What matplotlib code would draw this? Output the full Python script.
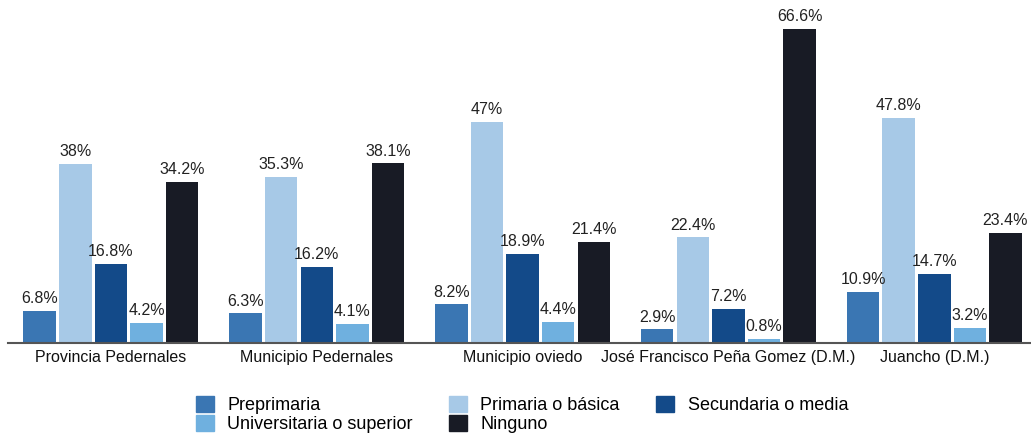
import numpy as np
import matplotlib
matplotlib.use("Agg")
import matplotlib.pyplot as plt
from matplotlib.patches import Patch

plt.rcParams['font.family'] = ['Liberation Sans', 'DejaVu Sans']

categories = ["Provincia Pedernales", "Municipio Pedernales", "Municipio oviedo",
              "José Francisco Peña Gomez (D.M.)", "Juancho (D.M.)"]
series_names = ["Preprimaria", "Primaria o básica", "Secundaria o media",
                "Universitaria o superior", "Ninguno"]
preprimaria = [6.8, 6.3, 8.2, 2.9, 10.9]
primaria = [38, 35.3, 47, 22.4, 47.8]
secundaria = [16.8, 16.2, 18.9, 7.2, 14.7]
universitaria = [4.2, 4.1, 4.4, 0.8, 3.2]
ninguno = [34.2, 38.1, 21.4, 66.6, 23.4]
series = [preprimaria, primaria, secundaria, universitaria, ninguno]
colors = ["#3a76b3", "#a7c9e7", "#134a89", "#6fb0df", "#181b25"]

fig = plt.figure(figsize=(10.31, 4.33), dpi=100)
ax = fig.add_axes([0.0078, 0.208, 0.9922, 0.792])

x = np.arange(len(categories))
step = 0.173
width = 0.158
for i, (vals, col) in enumerate(zip(series, colors)):
    pos = x + (i - 2) * step
    ax.bar(pos, vals, width=width, color=col, zorder=2)
    for p, v in zip(pos, vals):
        ax.text(p, v + 1.0, f"{v:g}%", ha='center', va='bottom',
                fontsize=11.5, color='#222222')

ax.set_xlim(-0.5, 4.47)
ax.set_ylim(0, 72.8)
ax.set_xticks(x)
ax.set_xticklabels(categories, fontsize=11.5, color='#111111')
ax.tick_params(axis='x', length=0, pad=5)
ax.set_yticks([])
for s in ['top', 'right', 'left']:
    ax.spines[s].set_visible(False)
ax.spines['bottom'].set_color('#555555')
ax.spines['bottom'].set_linewidth(1.5)

handles = [Patch(color=c) for c in colors]
order = [0, 3, 1, 4, 2]
leg = fig.legend([handles[k] for k in order], [series_names[k] for k in order],
                 ncol=3, loc='lower left', bbox_to_anchor=(0.174, -0.038),
                 frameon=False, fontsize=13, handlelength=1.0, handleheight=1.0,
                 handletextpad=0.75, columnspacing=2.0, labelspacing=0.05)

fig.savefig("out.png", dpi=100)
